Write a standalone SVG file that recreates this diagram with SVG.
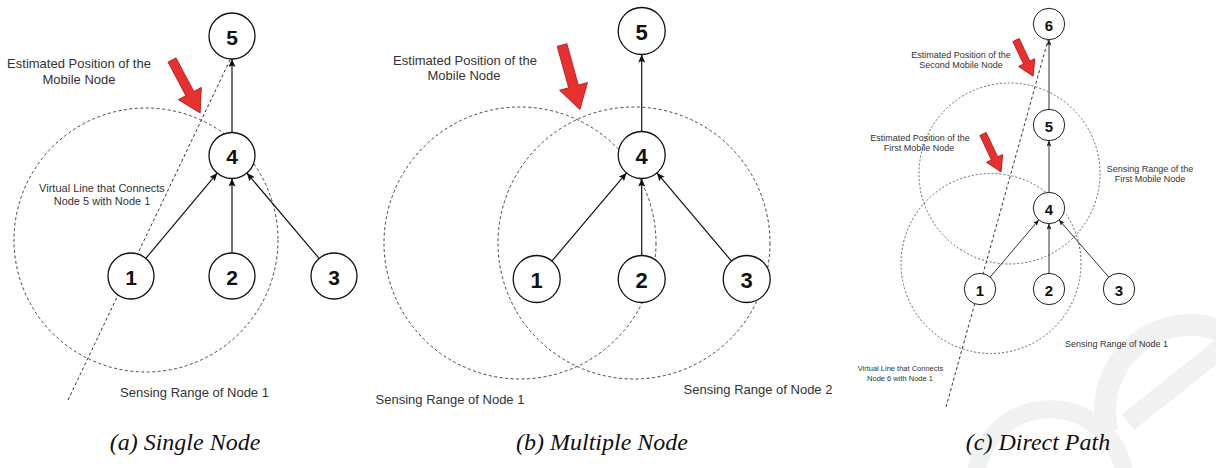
<svg xmlns="http://www.w3.org/2000/svg" width="1216" height="468" viewBox="0 0 1216 468">
  <defs>
    <style>
      .node { fill: #fff; stroke: #111; stroke-width: 1.3; }
      .node-s { fill: #fff; stroke: #222; stroke-width: 1; }
      .num { font-family: "Liberation Sans", Arial, sans-serif; font-weight: bold; fill: #111; text-anchor: middle; dominant-baseline: central; }
      .lbl { font-family: "Liberation Sans", Arial, sans-serif; fill: #333; text-anchor: middle; }
      .cap { font-family: "Liberation Serif", "Times New Roman", serif; font-style: italic; fill: #111; text-anchor: middle; font-size: 24px; }
      .edge { stroke: #111; stroke-width: 1.2; fill: none; }
      .edge-s { stroke: #333; stroke-width: 1; fill: none; }
      .range { fill: none; stroke: #444; stroke-width: 1; stroke-dasharray: 3 2.5; }
      .range-s { fill: none; stroke: #555; stroke-width: 0.9; stroke-dasharray: 2 2; }
      .virtual { fill: none; stroke: #333; stroke-width: 1; stroke-dasharray: 3 2.5; }
      .pointer { fill: #e8302e; stroke: #a81a1a; stroke-width: 0.8; stroke-linejoin: miter; }
      .mark-line { fill: none; stroke: #f1f1f1; }
    </style>
    <marker id="head" markerUnits="userSpaceOnUse" markerWidth="8" markerHeight="7" refX="8" refY="3.5" orient="auto">
      <path d="M0,0 L8,3.5 L0,7 L1.5,3.5 z" fill="#111"/>
    </marker>
    <marker id="head-s" markerUnits="userSpaceOnUse" markerWidth="6" markerHeight="5" refX="6" refY="2.5" orient="auto">
      <path d="M0,0 L6,2.5 L0,5 L1.2,2.5 z" fill="#222"/>
    </marker>
  </defs>

  <rect width="1216" height="468" fill="#fff"/>

  <!-- faint background logo, lower right -->
  <g id="logo">
    <path class="mark-line" stroke-width="22" d="M1108,432 A85,85 0 1 1 1270,439"/>
    <path class="mark-line" stroke-width="20" d="M1128,422 L1225,345"/>
    <path class="mark-line" stroke-width="18" d="M976,472 A75,75 0 0 1 1124,472"/>
  </g>

  <!-- ===== (a) Single Node ===== -->
  <g id="a-ranges">
    <circle class="range" cx="146" cy="240" r="132"/>
  </g>
  <g id="a-connectors">
    <line class="virtual" x1="68" y1="400" x2="230" y2="60"/>
    <line class="edge" x1="232" y1="132.5" x2="232" y2="59" marker-end="url(#head)"/>
    <line class="edge" x1="145.8" y1="258.4" x2="217.2" y2="173.1" marker-end="url(#head)"/>
    <line class="edge" x1="232" y1="253" x2="232" y2="178.5" marker-end="url(#head)"/>
    <line class="edge" x1="319.1" y1="258.4" x2="246.9" y2="173.1" marker-end="url(#head)"/>
  </g>
  <g id="a-node5"><circle class="node" cx="232" cy="36" r="23"/><text class="num" x="232" y="37" font-size="21">5</text></g>
  <g id="a-node4"><circle class="node" cx="232" cy="155.5" r="23"/><text class="num" x="232" y="156.5" font-size="21">4</text></g>
  <g id="a-node1"><circle class="node" cx="131" cy="276" r="23"/><text class="num" x="131" y="277" font-size="21">1</text></g>
  <g id="a-node2"><circle class="node" cx="232" cy="276" r="23"/><text class="num" x="232" y="277" font-size="21">2</text></g>
  <g id="a-node3"><circle class="node" cx="334" cy="276" r="23"/><text class="num" x="334" y="277" font-size="21">3</text></g>
  <g id="a-labels">
    <path class="pointer" transform="translate(172,60) rotate(62)" d="M0,-4.5 L38,-4.5 L38,-13 L60,0 L38,13 L38,4.5 L0,4.5 Z"/>
    <text class="lbl" font-size="13" x="79" y="68">Estimated Position of the</text>
    <text class="lbl" font-size="13" x="79" y="84">Mobile Node</text>
    <text class="lbl" font-size="11" x="102" y="192">Virtual Line that Connects</text>
    <text class="lbl" font-size="11" x="102" y="205">Node 5 with Node 1</text>
    <text class="lbl" font-size="13" x="194.5" y="396.5">Sensing Range of Node 1</text>
  </g>
  <text class="cap" x="185" y="450">(a) Single Node</text>

  <!-- ===== (b) Multiple Node ===== -->
  <g id="b-ranges">
    <circle class="range" cx="520" cy="243" r="136"/>
    <circle class="range" cx="634" cy="243" r="136"/>
  </g>
  <g id="b-connectors">
    <line class="edge" x1="641.7" y1="131.5" x2="641.7" y2="54.5" marker-end="url(#head)"/>
    <line class="edge" x1="551.9" y1="261.1" x2="626.5" y2="172.9" marker-end="url(#head)"/>
    <line class="edge" x1="641.7" y1="255.5" x2="641.7" y2="178.5" marker-end="url(#head)"/>
    <line class="edge" x1="731.5" y1="261.1" x2="656.9" y2="172.9" marker-end="url(#head)"/>
  </g>
  <g id="b-node5"><circle class="node" cx="641.7" cy="31" r="23.5"/><text class="num" x="641.7" y="32" font-size="22">5</text></g>
  <g id="b-node4"><circle class="node" cx="641.7" cy="155" r="23.5"/><text class="num" x="641.7" y="156" font-size="22">4</text></g>
  <g id="b-node1"><circle class="node" cx="536.7" cy="279" r="23.5"/><text class="num" x="536.7" y="280" font-size="22">1</text></g>
  <g id="b-node2"><circle class="node" cx="641.7" cy="279" r="23.5"/><text class="num" x="641.7" y="280" font-size="22">2</text></g>
  <g id="b-node3"><circle class="node" cx="746.7" cy="279" r="23.5"/><text class="num" x="746.7" y="280" font-size="22">3</text></g>
  <g id="b-labels">
    <path class="pointer" transform="translate(562,45) rotate(74.5)" d="M0,-5 L43,-5 L43,-14.5 L67,0 L43,14.5 L43,5 L0,5 Z"/>
    <text class="lbl" font-size="13" x="465" y="64.5">Estimated Position of the</text>
    <text class="lbl" font-size="13" x="464" y="79.5">Mobile Node</text>
    <text class="lbl" font-size="13" x="450" y="403.5">Sensing Range of Node 1</text>
    <text class="lbl" font-size="13" x="758" y="393.5">Sensing Range of Node 2</text>
  </g>
  <text class="cap" x="602" y="450">(b) Multiple Node</text>

  <!-- ===== (c) Direct Path ===== -->
  <g id="c-ranges">
    <circle class="range-s" cx="1009.5" cy="173.5" r="90.5"/>
    <circle class="range-s" cx="991" cy="263.5" r="90"/>
  </g>
  <g id="c-connectors">
    <line class="virtual" stroke-width="0.9" stroke-dasharray="2.5 2" x1="946" y1="407" x2="1048" y2="40"/>
    <line class="edge-s" x1="1049" y1="109.5" x2="1049" y2="39.5" marker-end="url(#head-s)"/>
    <line class="edge-s" x1="1049" y1="192.5" x2="1049" y2="140.5" marker-end="url(#head-s)"/>
    <line class="edge-s" x1="1049" y1="273.5" x2="1049" y2="223.5" marker-end="url(#head-s)"/>
    <line class="edge-s" x1="990.1" y1="277.2" x2="1038.9" y2="219.8" marker-end="url(#head-s)"/>
    <line class="edge-s" x1="1108.9" y1="277.3" x2="1058.9" y2="219.7" marker-end="url(#head-s)"/>
  </g>
  <g id="c-node6"><circle class="node-s" cx="1049" cy="24" r="15.7"/><text class="num" x="1049" y="25" font-size="15">6</text></g>
  <g id="c-node5"><circle class="node-s" cx="1049" cy="125" r="15.7"/><text class="num" x="1049" y="126" font-size="15">5</text></g>
  <g id="c-node4"><circle class="node-s" cx="1049" cy="208" r="15.7"/><text class="num" x="1049" y="209" font-size="15">4</text></g>
  <g id="c-node1"><circle class="node-s" cx="980" cy="289" r="15.7"/><text class="num" x="980" y="290" font-size="15">1</text></g>
  <g id="c-node2"><circle class="node-s" cx="1049" cy="289" r="15.7"/><text class="num" x="1049" y="290" font-size="15">2</text></g>
  <g id="c-node3"><circle class="node-s" cx="1119" cy="289" r="15.7"/><text class="num" x="1119" y="290" font-size="15">3</text></g>
  <g id="c-labels">
    <path class="pointer" transform="translate(1016,40) rotate(64.7)" d="M0,-3.5 L25,-3.5 L25,-9 L40,0 L25,9 L25,3.5 L0,3.5 Z"/>
    <path class="pointer" transform="translate(983,134) rotate(64.6)" d="M0,-3.5 L27,-3.5 L27,-9 L42,0 L27,9 L27,3.5 L0,3.5 Z"/>
    <text class="lbl" font-size="9" x="961" y="58">Estimated Position of the</text>
    <text class="lbl" font-size="9" x="961" y="68">Second Mobile Node</text>
    <text class="lbl" font-size="9" x="920" y="141">Estimated Position of the</text>
    <text class="lbl" font-size="9" x="919" y="151">First Mobile Node</text>
    <text class="lbl" font-size="9" x="1150" y="172">Sensing Range of the</text>
    <text class="lbl" font-size="9" x="1150" y="182">First Mobile Node</text>
    <text class="lbl" font-size="9" x="1116.5" y="347">Sensing Range of Node 1</text>
    <text class="lbl" font-size="7.5" x="900.5" y="370.5">Virtual Line that Connects</text>
    <text class="lbl" font-size="7.5" x="900" y="380.5">Node 6 with Node 1</text>
  </g>
  <text class="cap" x="1038" y="450">(c) Direct Path</text>
</svg>
